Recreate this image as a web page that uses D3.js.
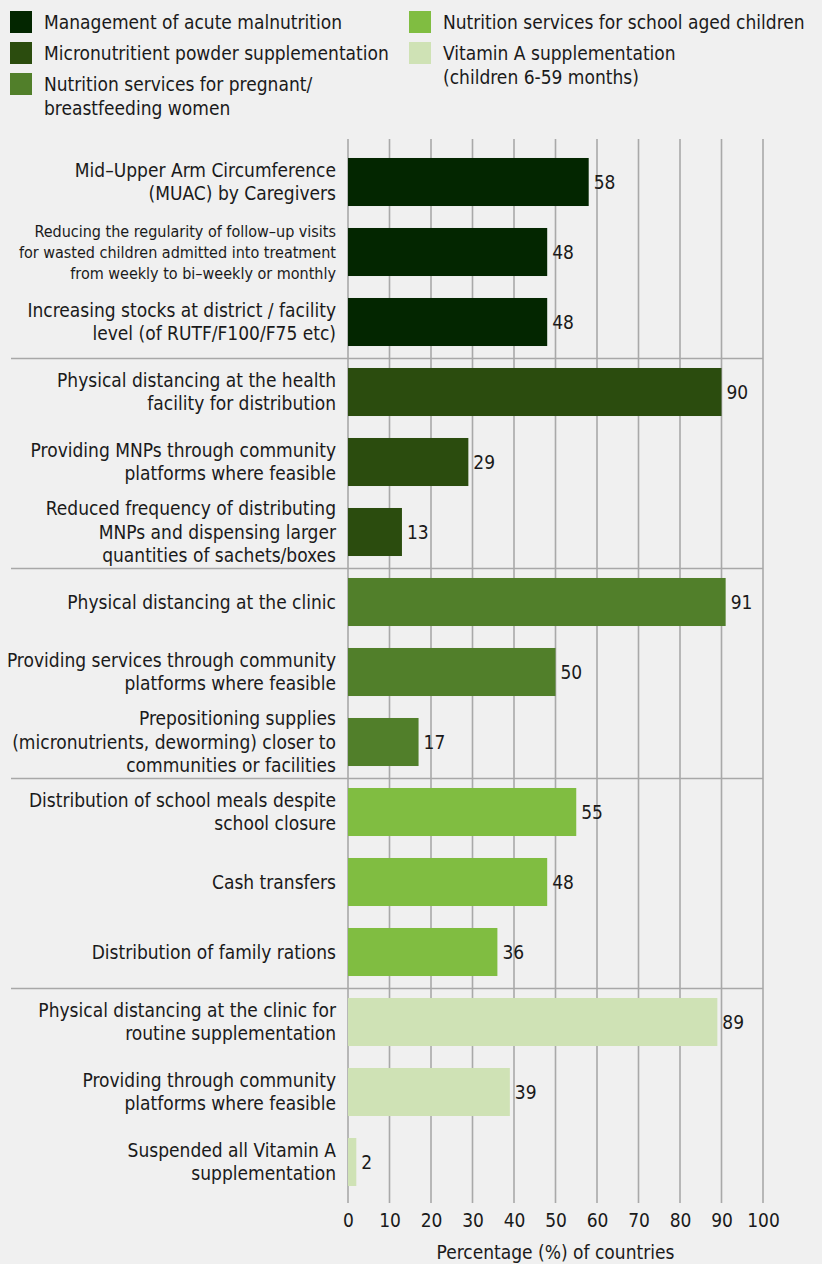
<!DOCTYPE html>
<html>
<head>
<meta charset="utf-8">
<script src="https://cdn.jsdelivr.net/npm/d3@7"></script>
<style>
  html, body { margin: 0; padding: 0; background: #f0f0f0; }
  svg text { font-family: "Liberation Sans Narrow", "DejaVu Sans Condensed", "Arial Narrow", sans-serif; fill: #1a1a1a; }
</style>
</head>
<body>
<svg id="chart" width="822" height="1264"></svg>
<script>
// Intervention groups (legend order) and their colours
const groups = [
  "Management of acute malnutrition",
  "Micronutritient powder supplementation",
  "Nutrition services for pregnant/\nbreastfeeding women",
  "Nutrition services for school aged children",
  "Vitamin A supplementation\n(children 6-59 months)"
];
const groupColors = ["#032600", "#2b4c0e", "#517f2a", "#80bd41", "#cfe2b5"];

// Adaptations (line breaks as drawn), the group each belongs to, and % of countries
const labels = [
  "Mid\u2013Upper Arm Circumference\n(MUAC) by Caregivers",
  "Reducing the regularity of follow\u2013up visits\nfor wasted children admitted into treatment\nfrom weekly to bi\u2013weekly or monthly",
  "Increasing stocks at district / facility\nlevel (of RUTF/F100/F75 etc)",
  "Physical distancing at the health\nfacility for distribution",
  "Providing MNPs through community\nplatforms where feasible",
  "Reduced frequency of distributing\nMNPs and dispensing larger\nquantities of sachets/boxes",
  "Physical distancing at the clinic",
  "Providing services through community\nplatforms where feasible",
  "Prepositioning supplies\n(micronutrients, deworming) closer to\ncommunities or facilities",
  "Distribution of school meals despite\nschool closure",
  "Cash transfers",
  "Distribution of family rations",
  "Physical distancing at the clinic for\nroutine supplementation",
  "Providing through community\nplatforms where feasible",
  "Suspended all Vitamin A\nsupplementation"
];
const groupIndex = [0, 0, 0, 1, 1, 1, 2, 2, 2, 3, 3, 3, 4, 4, 4];
const values = [58, 48, 48, 90, 29, 13, 91, 50, 17, 55, 48, 36, 89, 39, 2];
const smallLabel = [false, true, false, false, false, false, false, false, false, false, false, false, false, false, false];

const xTicks = [0, 10, 20, 30, 40, 50, 60, 70, 80, 90, 100];
const xTitle = "Percentage (%) of countries";

const svg = d3.select("#chart");
const FS = 19;

// ---- Legend ----
const legendItems = [
  { col: 0, row: 0, g: 0 },
  { col: 0, row: 1, g: 1 },
  { col: 0, row: 2, g: 2 },
  { col: 1, row: 0, g: 3 },
  { col: 1, row: 1, g: 4 }
];
const legendColX = [10, 409];
const legendRowY = [22, 53, 84];
const legend = svg.append("g");
legendItems.forEach(it => {
  const gx = legendColX[it.col], gy = legendRowY[it.row];
  legend.append("rect")
    .attr("x", gx).attr("y", gy - 11)
    .attr("width", 22).attr("height", 22)
    .attr("fill", groupColors[it.g]);
  const t = legend.append("text")
    .style("font-size", FS + "px");
  groups[it.g].split("\n").forEach((ln, i) => {
    t.append("tspan")
      .attr("x", gx + 34)
      .attr("y", gy + i * 24)
      .attr("dy", "0.35em")
      .text(ln);
  });
});

// ---- Plot ----
const x = d3.scaleLinear().domain([0, 100]).range([348, 763]);
const y = d3.scaleBand()
  .domain(d3.range(values.length))
  .range([147, 1197])
  .paddingInner(0.314)
  .paddingOuter(0.157);

const plot = svg.append("g");

// vertical gridlines
plot.append("g")
  .selectAll("line")
  .data(xTicks)
  .join("line")
  .attr("x1", d => x(d)).attr("x2", d => x(d))
  .attr("y1", 139).attr("y2", 1203)
  .attr("stroke", "#a9a9a9")
  .attr("stroke-width", 1.6);

// horizontal separators between groups
const sepRows = [3, 6, 9, 12];
plot.append("g")
  .selectAll("line")
  .data(sepRows)
  .join("line")
  .attr("x1", 11).attr("x2", x(100))
  .attr("y1", d => (y(d - 1) + y.bandwidth() + y(d)) / 2 + 1.5)
  .attr("y2", d => (y(d - 1) + y.bandwidth() + y(d)) / 2 + 1.5)
  .attr("stroke", "#a8a8a8")
  .attr("stroke-width", 1.6);

// bars
plot.append("g")
  .selectAll("rect")
  .data(values)
  .join("rect")
  .attr("x", x(0))
  .attr("y", (d, i) => y(i))
  .attr("width", d => x(d) - x(0))
  .attr("height", y.bandwidth())
  .attr("fill", (d, i) => groupColors[groupIndex[i]]);

// value labels
plot.append("g")
  .selectAll("text")
  .data(values)
  .join("text")
  .attr("x", d => x(d) + 5)
  .attr("y", (d, i) => y(i) + y.bandwidth() / 2)
  .attr("dy", "0.35em")
  .style("font-size", FS + "px")
  .text(d => d);

// category labels
const labG = plot.append("g");
labels.forEach((lab, i) => {
  const lines = lab.split("\n");
  const fs = smallLabel[i] ? 16 : FS;
  const lh = smallLabel[i] ? 21 : 23.5;
  const cy = y(i) + y.bandwidth() / 2;
  const t = labG.append("text")
    .attr("text-anchor", "end")
    .style("font-size", fs + "px");
  lines.forEach((ln, k) => {
    t.append("tspan")
      .attr("x", 336)
      .attr("y", cy + (k - (lines.length - 1) / 2) * lh)
      .attr("dy", "0.35em")
      .text(ln);
  });
});

// x axis tick labels
const axis = d3.axisBottom(x).tickValues(xTicks).tickSize(0).tickPadding(0);
const axG = svg.append("g")
  .attr("transform", "translate(0,1213)")
  .call(axis);
axG.select(".domain").remove();
axG.selectAll("text")
  .style("font-size", FS + "px")
  .attr("fill", "#1a1a1a");

svg.append("text")
  .attr("x", (x(0) + x(100)) / 2)
  .attr("y", 1252)
  .attr("text-anchor", "middle")
  .attr("dy", "0.35em")
  .style("font-size", FS + "px")
  .text(xTitle);
</script>
</body>
</html>
